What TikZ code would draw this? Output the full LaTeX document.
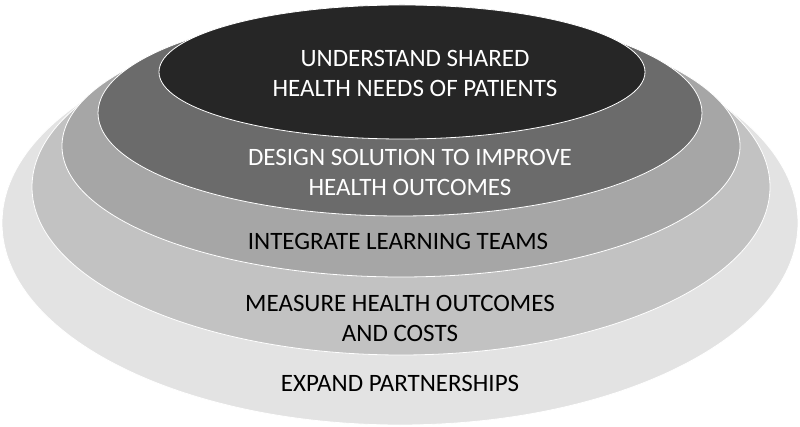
\documentclass[tikz,border=0pt]{standalone}
\usepackage{fontspec}
\setmainfont{Carlito}
\begin{document}
\begin{tikzpicture}[x=1pt,y=-1pt,
  ring/.style={draw=white,line width=0.8pt},
  lbl/.style={font=\fontsize{25}{30}\selectfont,align=center}]
\useasboundingbox (0,0) rectangle (800,427);
\fill[ring,fill=gray!22] (400,223) ellipse [x radius=398,y radius=202];
\fill[ring,fill=gray!48] (401,187) ellipse [x radius=369,y radius=168];
\fill[ring,fill=gray!70] (401,146) ellipse [x radius=339,y radius=131];
\fill[ring,fill=black!58] (400,113) ellipse [x radius=302,y radius=103];
\fill[ring,fill=black!85] (402,72) ellipse [x radius=243,y radius=67];
\node[lbl,text=white] (a) at (415,73) {UNDERSTAND SHARED\\HEALTH NEEDS OF PATIENTS};
\node[lbl,text=white] (b) at (410,172) {DESIGN SOLUTION TO IMPROVE\\HEALTH OUTCOMES};
\node[lbl] (c) at (398,241) {INTEGRATE LEARNING TEAMS};
\node[lbl] (d) at (400,318) {MEASURE HEALTH OUTCOMES\\AND COSTS};
\node[lbl] (e) at (400,383) {EXPAND PARTNERSHIPS};
\end{tikzpicture}
\end{document}
